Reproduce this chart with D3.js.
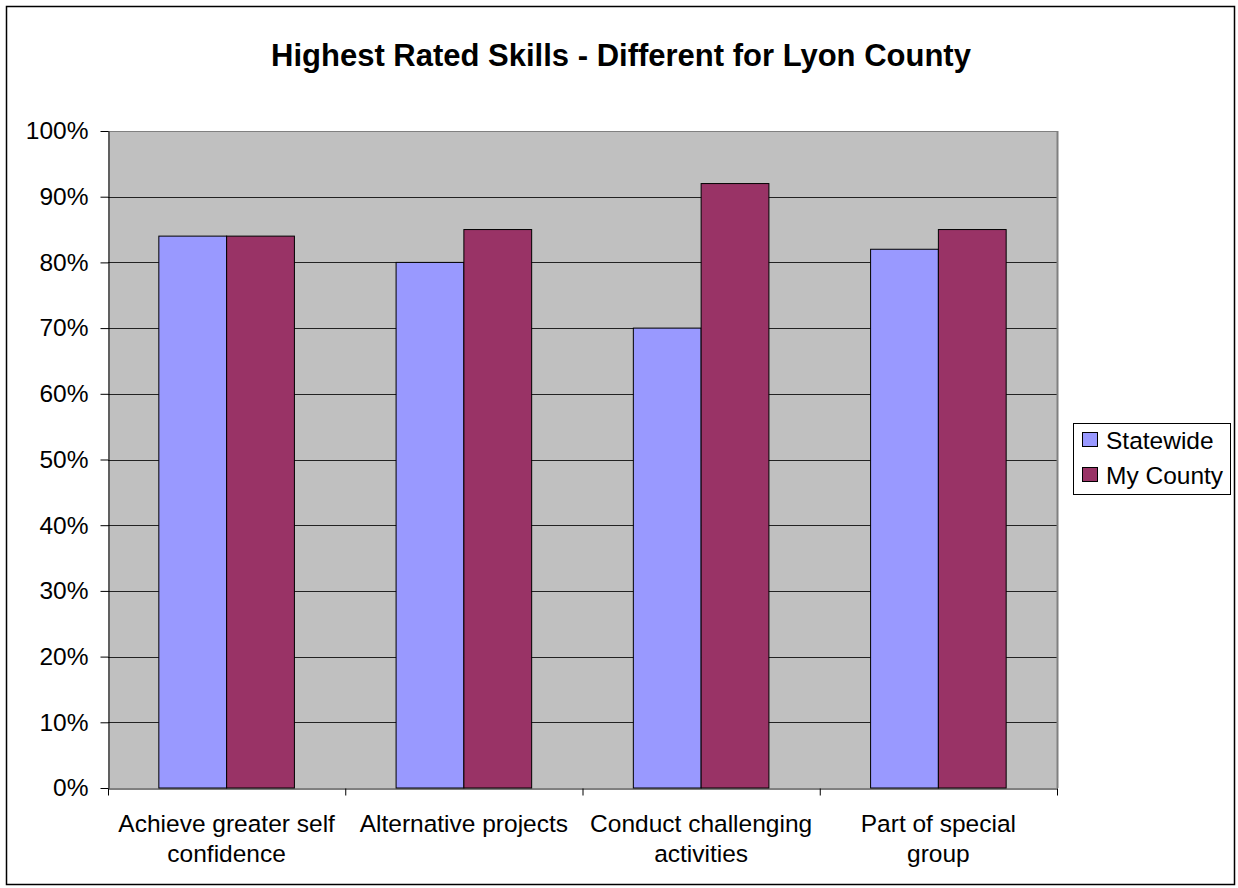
<!DOCTYPE html>
<html><head><meta charset="utf-8">
<script src="https://cdn.jsdelivr.net/npm/d3@7/dist/d3.min.js"></script>
<style>body{margin:0;background:#fff}svg{display:block;font-family:"Liberation Sans",Arial,sans-serif}</style>
</head><body>
<script>
const categories = [["Achieve greater self","confidence"],["Alternative projects"],["Conduct challenging","activities"],["Part of special","group"]];
const seriesNames = ["Statewide","My County"];
const statewide = [84, 80, 70, 82];
const myCounty = [84, 85, 92, 85];
const yTicks = [0,10,20,30,40,50,60,70,80,90,100];
const colors = ["#9999ff","#993366"];

const W=1238,H=888;
const svg=d3.select("body").append("svg").attr("width",W).attr("height",H);
svg.append("rect").attr("x",6.5).attr("y",6.5).attr("width",1228).attr("height",878).attr("fill","#fff").attr("stroke","#000").attr("stroke-width",1.5);

const L=108,R=1057,T=131,B=788;
const x=d3.scaleBand().domain(d3.range(categories.length)).range([L,R]).paddingInner(0).paddingOuter(0);
const y=d3.scaleLinear().domain([0,100]).range([B,T]);

svg.append("rect").attr("x",L).attr("y",T).attr("width",R-L).attr("height",B-T).attr("fill","#c0c0c0");
svg.append("g").selectAll("line").data(yTicks.filter(d=>d>0)).join("line")
 .attr("x1",L).attr("x2",R).attr("y1",d=>Math.round(y(d))+0.5).attr("y2",d=>Math.round(y(d))+0.5)
 .attr("stroke","#222").attr("stroke-width",1);
svg.append("line").attr("x1",R+0.5).attr("x2",R+0.5).attr("y1",T).attr("y2",B).attr("stroke","#808080").attr("stroke-width",2);
svg.append("line").attr("x1",L).attr("x2",R).attr("y1",T+0.5).attr("y2",T+0.5).attr("stroke","#808080");

const bw = x.bandwidth()/3.5;
const data=[statewide,myCounty];
data.forEach((s,si)=>{
  svg.append("g").selectAll("rect").data(s).join("rect")
   .attr("x",(d,i)=>x(i)+x.bandwidth()/2-bw+si*bw)
   .attr("y",d=>y(d)).attr("width",bw).attr("height",d=>B-y(d))
   .attr("fill",colors[si]).attr("stroke","#000").attr("stroke-width",1);
});

const ya=svg.append("g").attr("transform",`translate(${L+0.5},0)`)
 .call(d3.axisLeft(y).tickValues(yTicks).tickFormat(d=>d+"%").tickSize(8).tickSizeOuter(0));
ya.select(".domain").attr("stroke","#000");
ya.selectAll("text").attr("font-size",24.5).attr("fill","#000").attr("x",-20).attr("font-family","Liberation Sans, Arial, sans-serif");
ya.selectAll("line").attr("stroke","#000");

const xb=d3.scaleLinear().domain([0,categories.length]).range([L,R]);
const xa=svg.append("g").attr("transform",`translate(0,${B+0.5})`)
 .call(d3.axisBottom(xb).tickValues(d3.range(categories.length+1)).tickFormat("").tickSize(7).tickSizeOuter(0));
xa.select(".domain").attr("stroke","#000");
xa.selectAll("line").attr("stroke","#000");

const lab=svg.append("g").selectAll("text").data(categories).join("text")
 .attr("x",(d,i)=>x(i)+x.bandwidth()/2).attr("y",832).attr("text-anchor","middle").attr("font-size",24.5).attr("fill","#000");
lab.selectAll("tspan").data(d=>d).join("tspan").attr("x",function(){return this.parentNode.getAttribute("x");})
 .attr("dy",(d,i)=>i?30:0).text(d=>d);

svg.append("text").attr("x",621).attr("y",66).attr("text-anchor","middle").attr("font-size",31).attr("font-weight","bold").text("Highest Rated Skills - Different for Lyon County");

const lg=svg.append("g");
lg.append("rect").attr("x",1073.5).attr("y",423.5).attr("width",157).attr("height",71).attr("fill","#fff").attr("stroke","#000");
seriesNames.forEach((n,i)=>{
  lg.append("rect").attr("x",1082.5).attr("y",432.5+i*35).attr("width",15).attr("height",14).attr("fill",colors[i]).attr("stroke","#000");
  lg.append("text").attr("x",1106).attr("y",449+i*35).attr("font-size",24.5).text(n);
});
</script>
</body></html>
